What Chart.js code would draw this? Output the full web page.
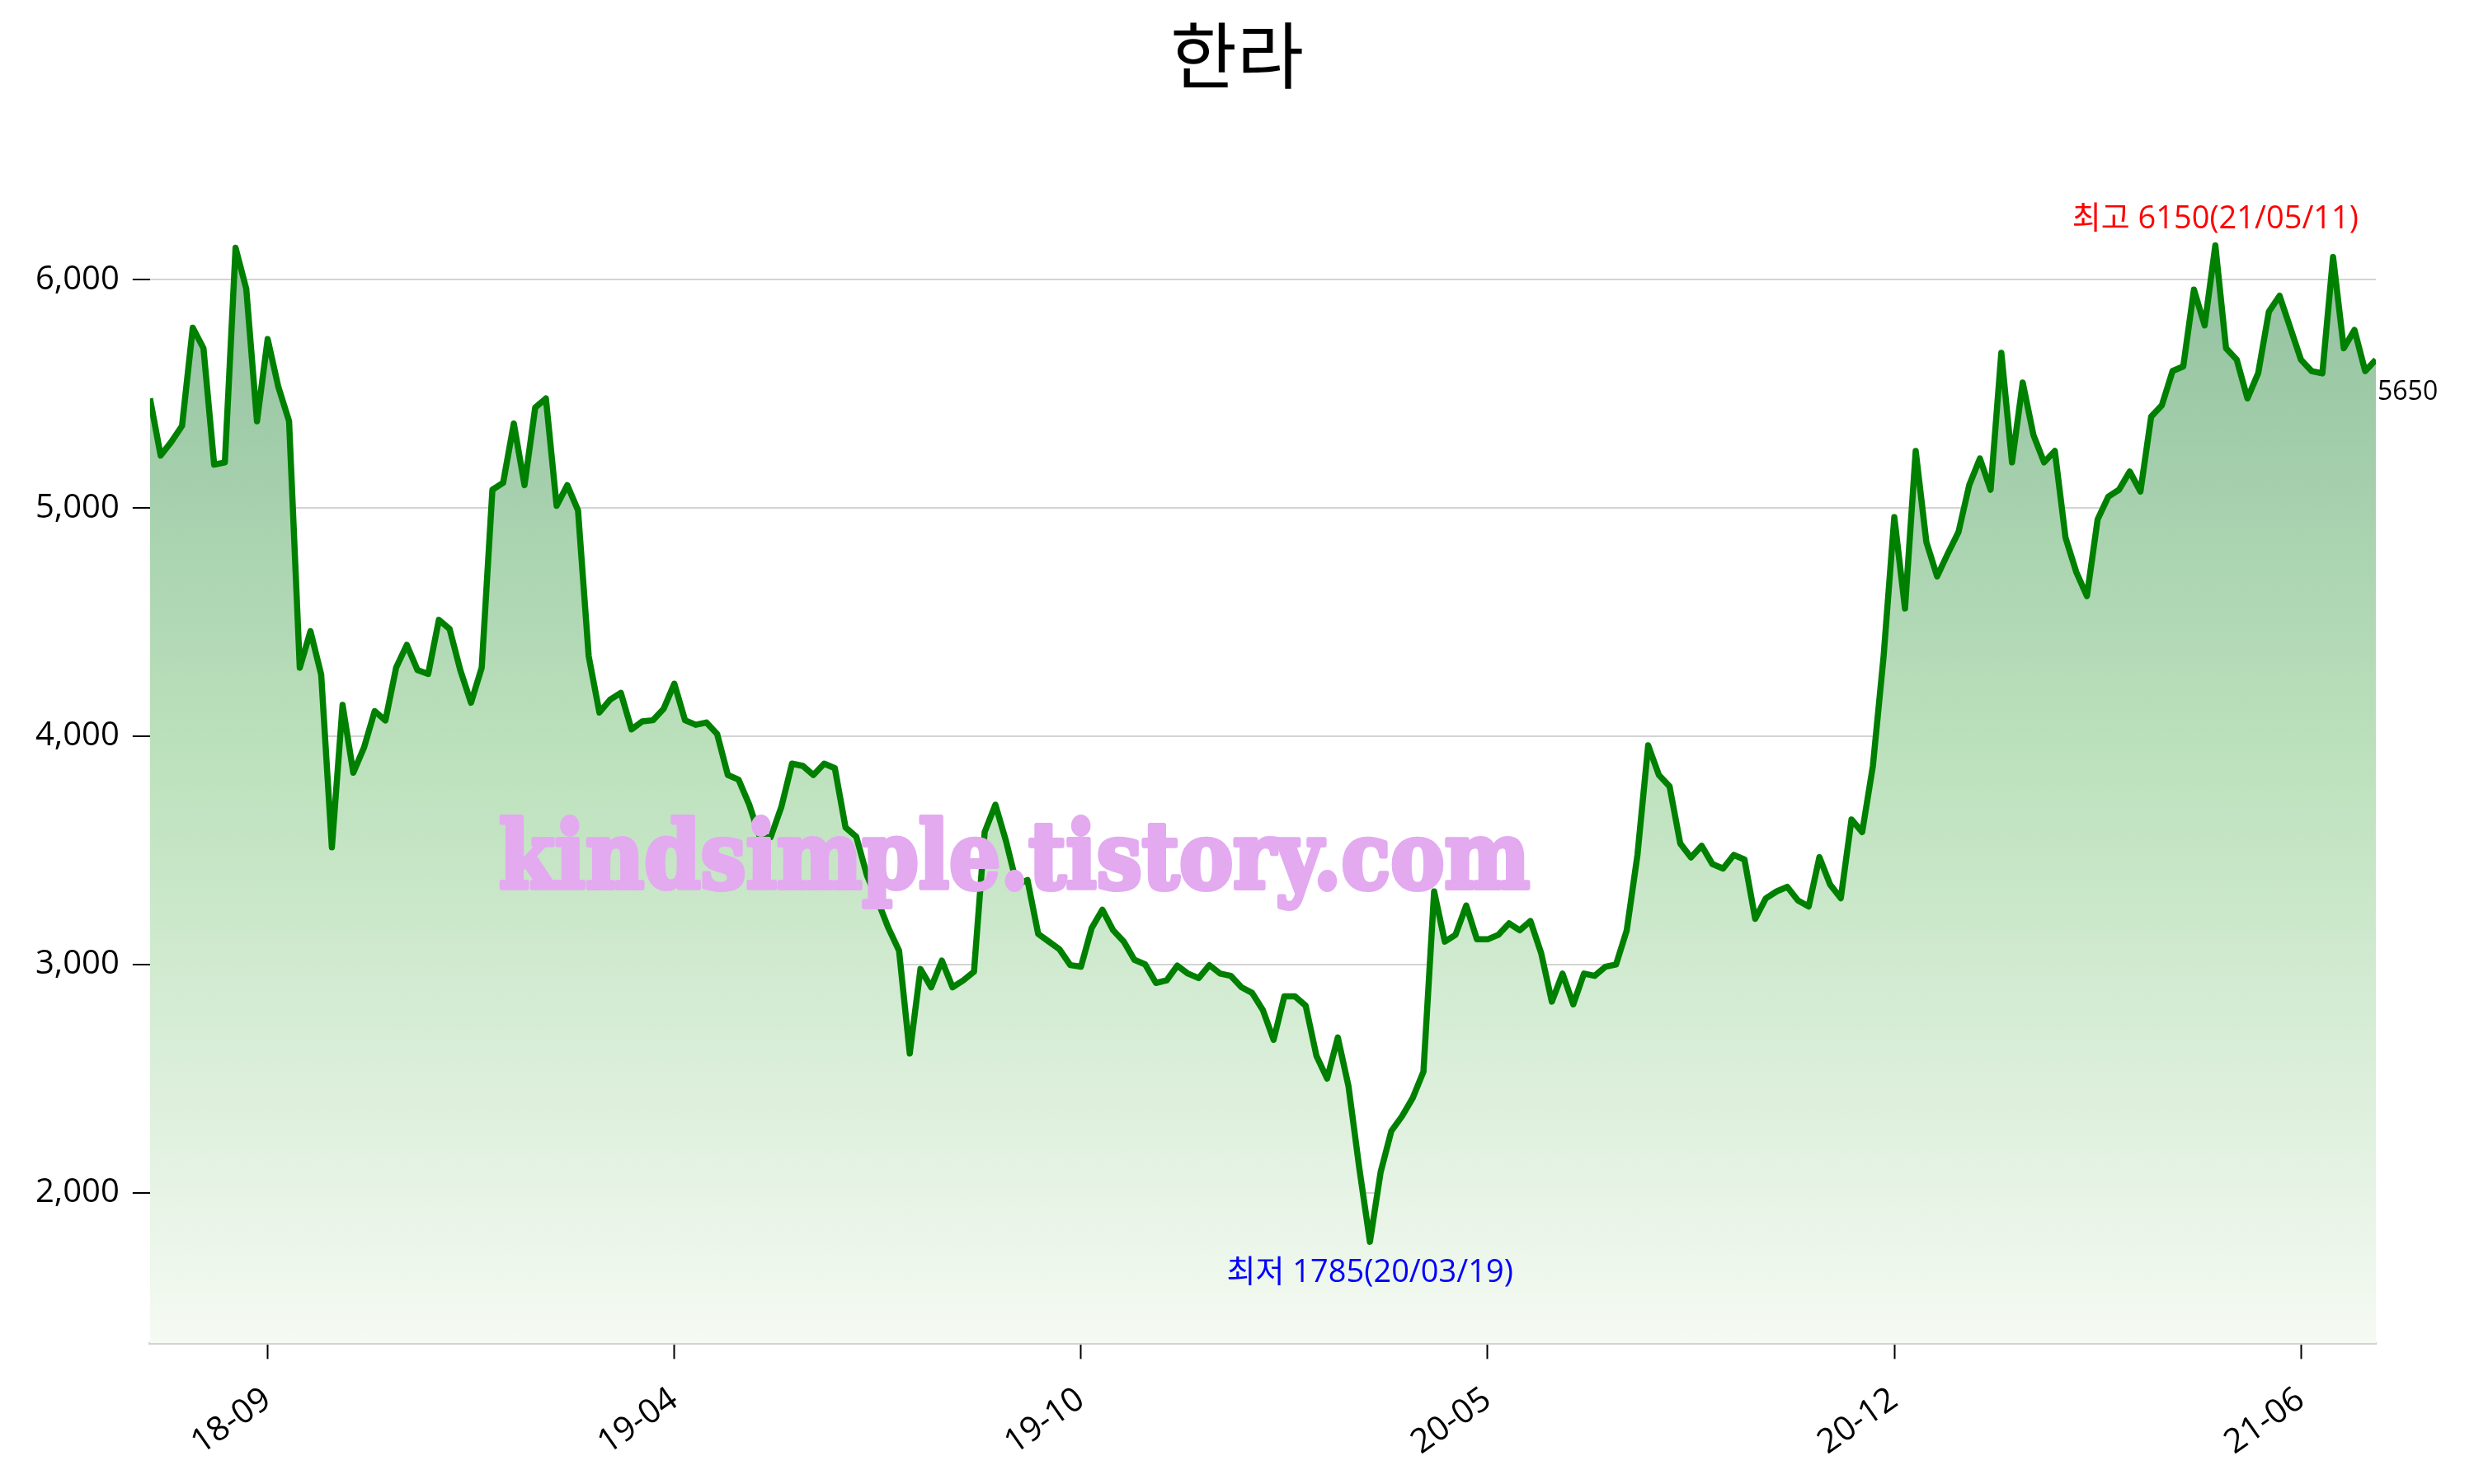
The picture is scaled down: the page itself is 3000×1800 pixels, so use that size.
<!DOCTYPE html>
<html>
<head>
<meta charset="utf-8">
<script src="https://cdn.jsdelivr.net/npm/chart.js@4.4.1/dist/chart.umd.min.js"></script>
<style>
  html, body { margin: 0; padding: 0; background: #fff; }
  #wrap { width: 3000px; height: 1800px; }
</style>
</head>
<body>
<div id="wrap"><canvas id="myChart"></canvas></div>
<script>
// 한라 종가 (18-07 ~ 21-07), 그림에서 읽은 값
const chartTitle = '한라';
const prices = [
  5480, 5230, 5290, 5360, 5790, 5700, 5190, 5200, 6140, 5960,
  5380, 5740, 5530, 5380, 4300, 4460, 4270, 3513, 4137, 3840,
  3950, 4110, 4069, 4300, 4400, 4290, 4273, 4510, 4470, 4290,
  4147, 4300, 5080, 5110, 5370, 5100, 5440, 5480, 5010, 5100,
  4990, 4350, 4104, 4160, 4190, 4030, 4065, 4070, 4120, 4230,
  4070, 4050, 4060, 4010, 3830, 3810, 3700, 3557, 3557, 3690,
  3880, 3870, 3830, 3880, 3860, 3600, 3560, 3390, 3280, 3160,
  3060, 2610, 2980, 2900, 3017, 2900, 2930, 2968, 3580, 3700,
  3540, 3350, 3370, 3134, 3100, 3066, 2997, 2990, 3160, 3240,
  3150, 3100, 3020, 3000, 2919, 2930, 2995, 2960, 2940, 2997,
  2960, 2950, 2900, 2875, 2800, 2670, 2860, 2860, 2819, 2600,
  2500, 2680, 2466, 2110, 1785, 2090, 2270, 2335, 2415, 2530,
  3320, 3100, 3130, 3258, 3110, 3110, 3130, 3180, 3150, 3190,
  3050, 2837, 2960, 2825, 2960, 2950, 2990, 3000, 3150, 3480,
  3960, 3830, 3780, 3530, 3469, 3520, 3440, 3420, 3480, 3460,
  3200, 3290, 3320, 3340, 3280, 3254, 3470, 3350, 3290, 3635,
  3580, 3870, 4350, 4960, 4560, 5250, 4850, 4700, 4800, 4895,
  5100, 5217, 5080, 5680, 5200, 5550, 5320, 5200, 5250, 4870,
  4720, 4614, 4950, 5050, 5080, 5160, 5072, 5400, 5450, 5600,
  5620, 5957, 5800, 6150, 5700, 5650, 5480, 5590, 5860, 5930,
  5790, 5650, 5600, 5590, 6100, 5700, 5780, 5600, 5650
];
const tickIndex = [11, 49, 87, 125, 163, 201];
const tickLabels = ['18-09', '19-04', '19-10', '20-05', '20-12', '21-06'];
const yTicks = [2000, 3000, 4000, 5000, 6000];
const highLabel = '최고 6150(21/05/11)';
const lowLabel = '최저 1785(20/03/19)';
const watermark = 'kindsimple.tistory.com';

Chart.defaults.font.family = "'Open Sans', 'Noto Sans CJK KR', sans-serif";
Chart.defaults.color = '#000';

const extrasPlugin = {
  id: 'extras',
  afterDatasetsDraw(chart) {
    const ctx = chart.ctx;
    const pts = chart.getDatasetMeta(0).data;
    const hi = prices.indexOf(Math.max(...prices));
    const lo = prices.indexOf(Math.min(...prices));
    const last = prices.length - 1;

    ctx.save();
    // 제목
    ctx.font = "88px 'Noto Sans CJK KR'";
    ctx.textAlign = 'center';
    ctx.textBaseline = 'middle';
    ctx.fillStyle = '#000';
    ctx.fillText(chartTitle, chart.width / 2, 67);

    // 최고 / 최저
    ctx.font = "38px 'Open Sans', 'Noto Sans CJK KR'";
    ctx.fillStyle = 'red';
    ctx.fillText(highLabel, pts[hi].x, pts[hi].y - 32);
    ctx.fillStyle = 'blue';
    ctx.fillText(lowLabel, pts[lo].x, pts[lo].y + 38);

    // 마지막 값
    ctx.font = "32px 'Open Sans'";
    ctx.fillStyle = '#000';
    ctx.textAlign = 'left';
    ctx.fillText(String(prices[last]), pts[last].x + 2, pts[last].y + 40);

    // 워터마크
    ctx.font = "bold 112px 'DejaVu Serif'";
    ctx.textBaseline = 'alphabetic';
    ctx.textAlign = 'center';
    const w = ctx.measureText(watermark).width;
    ctx.translate(1230, 1077);
    ctx.scale(1250 / w, 1);
    ctx.fillStyle = '#e3aaf0';
    ctx.strokeStyle = '#e3aaf0';
    ctx.lineWidth = 6;
    ctx.lineJoin = 'round';
    ctx.strokeText(watermark, 0, 0);
    ctx.fillText(watermark, 0, 0);
    ctx.restore();
  }
};

const ctx = document.getElementById('myChart');

new Chart(ctx, {
  type: 'line',
  data: {
    datasets: [{
      data: prices.map((v, i) => ({ x: i, y: v })),
      borderColor: 'green',
      borderWidth: 7.5,
      borderJoinStyle: 'round',
      pointRadius: 0,
      tension: 0,
      fill: 'start',
      backgroundColor: function (context) {
        const area = context.chart.chartArea;
        if (!area) return 'rgba(143,188,143,0.5)';
        const g = context.chart.ctx.createLinearGradient(0, area.top, 0, area.bottom);
        g.addColorStop(0, 'rgb(140,188,155)');
        g.addColorStop(0.5, 'rgb(188,225,188)');
        g.addColorStop(1, 'rgb(245,250,243)');
        return g;
      }
    }]
  },
  options: {
    responsive: true,
    maintainAspectRatio: false,
    animation: false,
    layout: {
      padding: { left: 27, right: 119, top: 212, bottom: 0 }
    },
    plugins: {
      legend: { display: false },
      tooltip: { enabled: false },
      title: { display: false }
    },
    scales: {
      x: {
        type: 'linear',
        min: 0,
        max: prices.length - 1,
        afterBuildTicks: function (scale) {
          scale.ticks = tickIndex.map(v => ({ value: v }));
        },
        ticks: {
          autoSkip: false,
          maxRotation: 35,
          minRotation: 35,
          padding: 25,
          font: { size: 41 },
          color: '#000',
          callback: function (value) {
            return tickLabels[tickIndex.indexOf(value)];
          }
        },
        grid: {
          drawOnChartArea: false,
          tickLength: 19,
          tickColor: '#000',
          tickWidth: 2
        },
        border: { display: true, color: '#d3d3d3', width: 3 }
      },
      y: {
        min: 1340,
        max: 6460,
        afterBuildTicks: function (scale) {
          scale.ticks = yTicks.map(v => ({ value: v }));
        },
        ticks: {
          padding: 16,
          font: { size: 40 },
          color: '#000'
        },
        grid: {
          color: '#d3d3d3',
          lineWidth: 2,
          tickLength: 21,
          tickColor: '#000',
          tickWidth: 2
        },
        border: { display: false }
      }
    }
  },
  plugins: [extrasPlugin]
});
</script>
</body>
</html>
